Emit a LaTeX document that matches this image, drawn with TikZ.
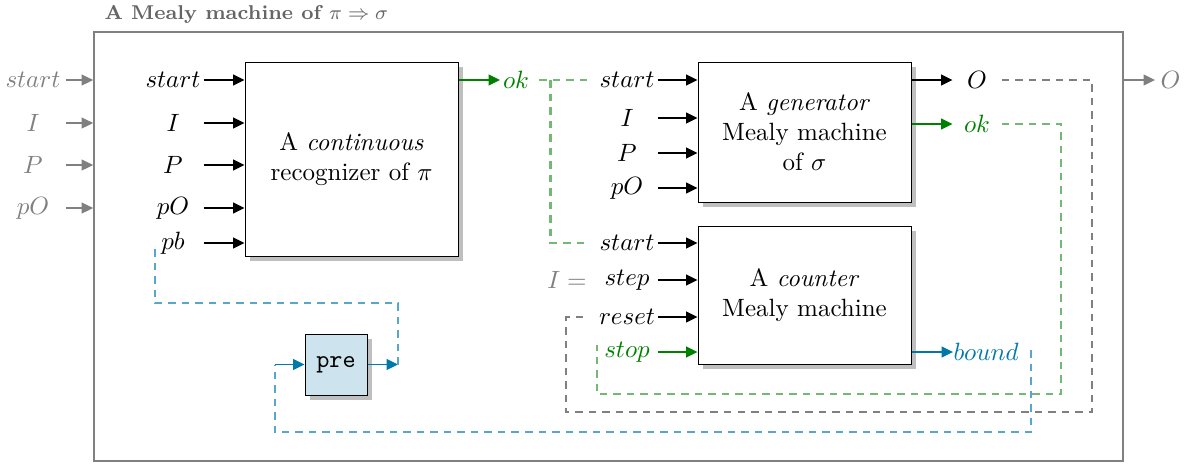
\documentclass[tikz,border=0pt]{standalone}
\usetikzlibrary{arrows.meta,shadows}
\definecolor{okgreen}{RGB}{0,128,0}
\definecolor{bndblue}{RGB}{0,120,170}
\definecolor{prefill}{RGB}{205,228,238}
\tikzset{
  box/.style={draw, fill=white, align=center, line width=0.4pt,
    drop shadow={shadow xshift=2pt, shadow yshift=-2pt, opacity=1, fill=black!25}},
  inlbl/.style={minimum width=24pt, inner sep=0pt},
  outlbl/.style={minimum width=19.2pt, inner sep=0pt},
  arr/.style={-{Triangle[length=4.6pt,width=4.4pt]}, line width=0.45pt},
  garr/.style={arr, gray},
  dsh/.style={line width=0.95pt, dash pattern=on 3pt off 2.4pt},
  okdash/.style={dsh, okgreen!55},
  odash/.style={dsh, black!50},
  bdash/.style={dsh, bndblue!65},
}
\begin{document}
\begin{tikzpicture}[x=0.4pt,y=-0.4pt]
\useasboundingbox (0,0) rectangle (1186,463);
\node[draw=gray, line width=0.7pt, minimum width=411.6pt, minimum height=171.6pt] (mm) at (608.5,246.5) {};
\node[anchor=west, inner sep=0pt, black!60, font=\footnotesize\bfseries] (ttl) at (104,14) {A Mealy machine of $\pi\Rightarrow\sigma$};
\foreach \y/\t/\n in {80/start/xs, 123/I/xi, 165/P/xp, 208/pO/xpo} {
  \node[inlbl, gray, minimum width=25.6pt] (\n) at (33,\y) {$\t$};
  \draw[garr] (\n.east) -- (\n.east -| mm.west);
}
\node[box, minimum width=85.2pt, minimum height=77.6pt] (rec) at (351.5,159) {A \emph{continuous}\\recognizer of $\pi$};
\foreach \y/\t/\n in {80/start/rs, 123/I/ri, 165/P/rp, 208/pO/rpo, 243/pb/rpb} {
  \node[inlbl] (\n) at (173,\y) {$\t$};
  \draw[arr] (\n.east) -- (\n.east -| rec.west);
}
\node[anchor=west, inner sep=1pt, okgreen] (rok) at (500,80) {$ok$};
\draw[arr, okgreen] (rec.east |- rok) -- (rok.west);
\node[box, minimum width=85.2pt, minimum height=56pt] (gen) at (804.5,132) {A \emph{generator}\\Mealy machine\\of $\sigma$};
\foreach \y/\t/\n in {80/start/gs, 118/I/gi, 153/P/gp, 188/pO/gpo} {
  \node[inlbl] (\n) at (627,\y) {$\t$};
  \draw[arr] (\n.east) -- (\n.east -| gen.west);
}
\node[outlbl] (gO) at (977,80) {$O$};
\node[outlbl, okgreen] (gok) at (977,124) {$ok$};
\draw[arr] (gen.east |- gO) -- (gO.west);
\draw[arr, okgreen] (gen.east |- gok) -- (gok.west);
\node[anchor=west, inner sep=2pt, gray] (xO) at (1155,80) {$O$};
\draw[garr] (mm.east |- xO) -- (xO.west);
\node[box, minimum width=85.2pt, minimum height=55.2pt] (cnt) at (804.5,295) {A \emph{counter}\\Mealy machine};
\foreach \y/\t/\n/\c in {243/start/cs/black, 280/step/cst/black, 317/reset/crs/black, 352/stop/csp/okgreen} {
  \node[inlbl, \c] (\n) at (627,\y) {$\t$};
  \draw[arr, \c] (\n.east) -- (\n.east -| cnt.west);
}
\node[gray, inner sep=0pt] (ceq) at (567,280) {$I =$};
\node[anchor=west, inner sep=0pt, bndblue] (cb) at (953,352) {$bound$};
\draw[arr, bndblue] (cnt.east |- cb) -- (cb.west);
\node[box, fill=prefill, minimum width=24.8pt, minimum height=24.4pt] (pre) at (336,364.5) {\texttt{pre}};
\coordinate (pin) at (275,364.5);
\coordinate (pout) at (398,364.5);
\draw[arr, bndblue] (pin) -- (pre.west);
\draw[arr, bndblue] (pre.east) -- (pout);
\draw[okdash] ([xshift=3pt]rok.east) -- ([xshift=-3pt]gs.west);
\draw[okdash] ([xshift=7.5pt]rok.east) |- ([xshift=-3pt]cs.west);
\draw[odash] (gO.east) -| (1092,412) -| (566,317) -- ([xshift=-3pt]crs.west);
\draw[okdash] (gok.east) -| (1061,394) -| (597,345);
\draw[bdash] (1031,350) |- (275,432) -- (pin);
\draw[bdash] (pout) |- (155,303) -- (155,243);
\end{tikzpicture}
\end{document}
